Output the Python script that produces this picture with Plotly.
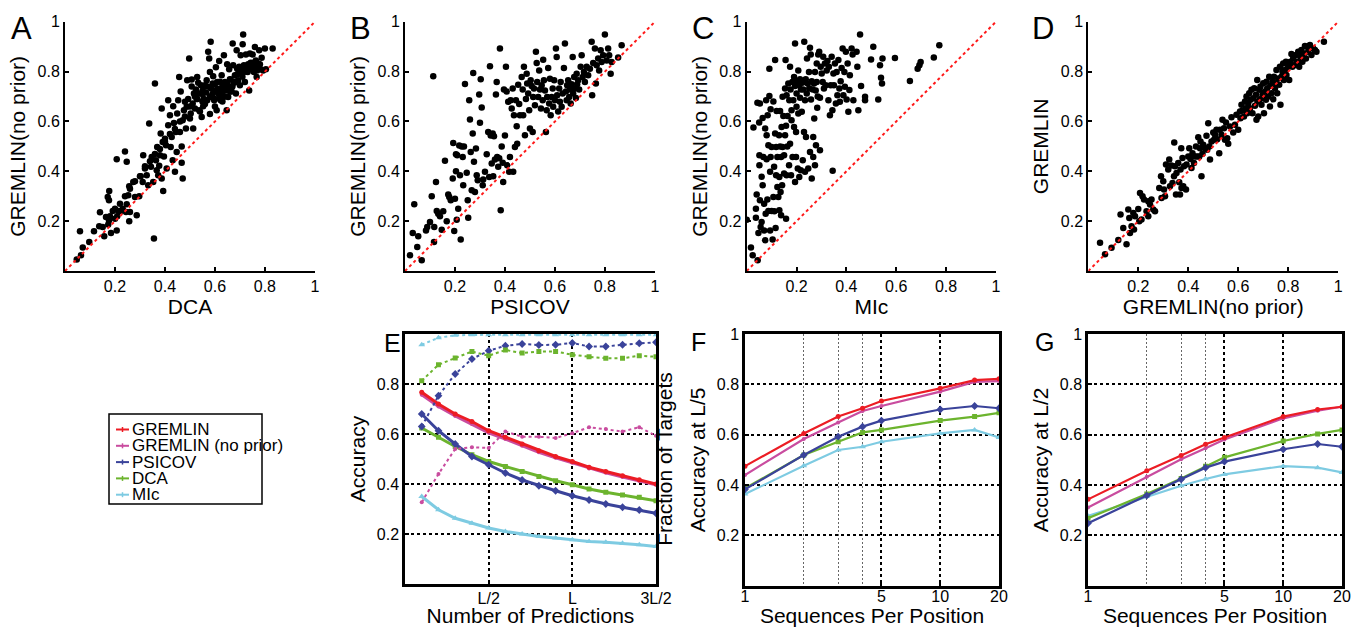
import math
import plotly.graph_objects as go

W, H = 1355, 627
FONT = "Liberation Sans, Arial, Helvetica, sans-serif"

# ---------------- data ----------------
methods = ["GREMLIN", "GREMLIN (no prior)", "PSICOV", "DCA", "MIc"]

# Panel A: DCA (x) vs GREMLIN(no prior) (y)
a_pts = [
    (0.047, 0.046), (0.064, 0.063), (0.071, 0.094), (0.06, 0.16), (0.097, 0.116), (0.116, 0.16),
    (0.137, 0.18), (0.151, 0.177), (0.14, 0.236), (0.157, 0.139), (0.164, 0.217), (0.173, 0.187),
    (0.176, 0.203), (0.184, 0.153), (0.171, 0.297), (0.176, 0.284), (0.177, 0.321), (0.191, 0.241),
    (0.2, 0.21), (0.207, 0.163), (0.209, 0.22), (0.213, 0.241), (0.207, 0.448), (0.223, 0.241),
    (0.231, 0.25), (0.24, 0.48), (0.244, 0.237), (0.247, 0.438), (0.247, 0.268), (0.253, 0.304),
    (0.257, 0.34), (0.26, 0.237), (0.257, 0.2), (0.273, 0.357), (0.28, 0.297), (0.287, 0.224),
    (0.297, 0.3), (0.303, 0.38), (0.311, 0.357), (0.313, 0.465), (0.32, 0.411), (0.327, 0.384),
    (0.333, 0.344), (0.337, 0.592), (0.344, 0.418), (0.347, 0.458), (0.353, 0.357), (0.356, 0.13),
    (0.36, 0.752), (0.364, 0.444), (0.367, 0.404), (0.369, 0.498), (0.373, 0.384), (0.377, 0.422),
    (0.38, 0.465), (0.383, 0.552), (0.387, 0.371), (0.387, 0.652), (0.391, 0.518), (0.393, 0.321),
    (0.396, 0.46), (0.4, 0.531), (0.404, 0.505), (0.407, 0.411), (0.413, 0.585), (0.413, 0.685),
    (0.42, 0.625), (0.423, 0.498), (0.427, 0.538), (0.431, 0.444), (0.433, 0.661), (0.436, 0.594),
    (0.44, 0.398), (0.444, 0.558), (0.447, 0.478), (0.449, 0.632), (0.453, 0.685), (0.457, 0.779),
    (0.46, 0.558), (0.463, 0.72), (0.467, 0.5), (0.467, 0.434), (0.471, 0.371), (0.471, 0.605),
    (0.476, 0.645), (0.48, 0.679), (0.484, 0.572), (0.487, 0.659), (0.489, 0.766), (0.493, 0.69),
    (0.497, 0.853), (0.5, 0.612), (0.503, 0.632), (0.507, 0.74), (0.507, 0.769), (0.511, 0.672),
    (0.513, 0.572), (0.516, 0.712), (0.52, 0.652), (0.524, 0.728), (0.527, 0.69), (0.529, 0.779),
    (0.533, 0.755), (0.537, 0.645), (0.54, 0.712), (0.544, 0.745), (0.547, 0.618), (0.551, 0.724),
    (0.553, 0.661), (0.556, 0.69), (0.56, 0.745), (0.564, 0.716), (0.567, 0.766), (0.569, 0.685),
    (0.573, 0.88), (0.577, 0.853), (0.58, 0.799), (0.583, 0.92), (0.584, 0.732), (0.587, 0.698),
    (0.591, 0.752), (0.593, 0.782), (0.597, 0.685), (0.6, 0.724), (0.604, 0.818), (0.607, 0.645),
    (0.609, 0.759), (0.613, 0.712), (0.617, 0.843), (0.62, 0.732), (0.623, 0.685), (0.627, 0.786),
    (0.631, 0.742), (0.633, 0.698), (0.636, 0.866), (0.64, 0.759), (0.644, 0.724), (0.647, 0.645),
    (0.649, 0.83), (0.653, 0.698), (0.657, 0.81), (0.66, 0.739), (0.663, 0.769), (0.667, 0.72),
    (0.671, 0.913), (0.673, 0.826), (0.677, 0.755), (0.68, 0.786), (0.684, 0.712), (0.687, 0.886),
    (0.689, 0.812), (0.693, 0.766), (0.697, 0.82), (0.7, 0.745), (0.703, 0.866), (0.707, 0.805),
    (0.711, 0.91), (0.713, 0.949), (0.716, 0.826), (0.72, 0.759), (0.724, 0.869), (0.727, 0.82),
    (0.731, 0.799), (0.733, 0.83), (0.737, 0.724), (0.74, 0.873), (0.743, 0.836), (0.747, 0.826),
    (0.751, 0.869), (0.753, 0.836), (0.756, 0.799), (0.76, 0.899), (0.764, 0.845), (0.767, 0.779),
    (0.769, 0.805), (0.773, 0.833), (0.777, 0.886), (0.783, 0.81), (0.787, 0.856), (0.793, 0.805),
    (0.8, 0.893), (0.804, 0.81), (0.831, 0.893),
    (0.52, 0.70), (0.55, 0.71), (0.57, 0.74), (0.58, 0.70), (0.60, 0.75), (0.61, 0.73), (0.62, 0.76),
    (0.63, 0.72), (0.64, 0.70), (0.65, 0.75), (0.66, 0.77), (0.67, 0.74), (0.68, 0.76), (0.69, 0.79),
    (0.70, 0.80), (0.71, 0.78), (0.72, 0.80), (0.74, 0.81), (0.75, 0.82), (0.76, 0.82), (0.78, 0.83),
    (0.50, 0.66), (0.48, 0.62), (0.46, 0.60), (0.44, 0.57), (0.42, 0.55), (0.40, 0.52), (0.38, 0.49),
    (0.36, 0.47), (0.34, 0.44), (0.32, 0.42), (0.30, 0.38), (0.28, 0.36), (0.26, 0.33), (0.24, 0.30),
    (0.22, 0.27), (0.20, 0.25), (0.18, 0.22), (0.53, 0.69), (0.55, 0.68), (0.56, 0.67), (0.59, 0.71),
    (0.60, 0.69), (0.62, 0.70), (0.63, 0.68), (0.64, 0.73), (0.66, 0.72), (0.60, 0.66), (0.58, 0.63),
    (0.54, 0.64),
]

# Panel B: PSICOV (x) vs GREMLIN(no prior) (y)
b_pts = [
    (0.02, 0.063), (0.031, 0.153), (0.037, 0.268), (0.049, 0.096), (0.053, 0.139), (0.067, 0.043),
    (0.084, 0.163), (0.089, 0.177), (0.1, 0.197), (0.107, 0.3), (0.113, 0.782), (0.116, 0.116),
    (0.117, 0.177), (0.124, 0.357), (0.127, 0.241), (0.133, 0.23), (0.14, 0.22), (0.147, 0.166),
    (0.153, 0.24), (0.16, 0.442), (0.167, 0.2), (0.173, 0.307), (0.177, 0.297), (0.183, 0.284),
    (0.191, 0.371), (0.193, 0.514), (0.197, 0.161), (0.2, 0.29), (0.204, 0.4), (0.207, 0.206),
    (0.204, 0.469), (0.209, 0.465), (0.213, 0.25), (0.217, 0.504), (0.22, 0.384), (0.223, 0.126),
    (0.227, 0.5), (0.231, 0.458), (0.233, 0.344), (0.236, 0.5), (0.24, 0.75), (0.247, 0.394),
    (0.251, 0.284), (0.253, 0.214), (0.257, 0.685), (0.26, 0.608), (0.263, 0.478), (0.267, 0.324),
    (0.271, 0.552), (0.273, 0.795), (0.276, 0.438), (0.28, 0.317), (0.284, 0.492), (0.287, 0.384),
    (0.291, 0.364), (0.297, 0.708), (0.3, 0.595), (0.303, 0.77), (0.307, 0.656), (0.311, 0.344),
    (0.313, 0.367), (0.32, 0.398), (0.327, 0.469), (0.333, 0.558), (0.337, 0.377), (0.34, 0.822),
    (0.343, 0.544), (0.347, 0.431), (0.351, 0.552), (0.353, 0.38), (0.356, 0.541), (0.36, 0.447),
    (0.364, 0.708), (0.367, 0.759), (0.369, 0.458), (0.373, 0.418), (0.377, 0.452), (0.38, 0.893),
    (0.383, 0.244), (0.387, 0.5), (0.391, 0.434), (0.393, 0.357), (0.396, 0.728), (0.4, 0.544),
    (0.404, 0.82), (0.407, 0.72), (0.409, 0.424), (0.413, 0.679), (0.417, 0.398), (0.42, 0.458),
    (0.423, 0.685), (0.427, 0.652), (0.431, 0.732), (0.433, 0.398), (0.436, 0.625), (0.44, 0.498),
    (0.444, 0.685), (0.447, 0.581), (0.449, 0.511), (0.453, 0.747), (0.457, 0.67), (0.46, 0.625),
    (0.467, 0.779), (0.471, 0.728), (0.473, 0.625), (0.476, 0.82), (0.48, 0.545), (0.484, 0.69),
    (0.487, 0.792), (0.489, 0.752), (0.493, 0.712), (0.497, 0.645), (0.5, 0.572), (0.503, 0.766),
    (0.507, 0.742), (0.511, 0.558), (0.513, 0.698), (0.516, 0.732), (0.52, 0.665), (0.524, 0.88),
    (0.527, 0.835), (0.529, 0.759), (0.533, 0.698), (0.537, 0.805), (0.54, 0.728), (0.544, 0.652),
    (0.547, 0.745), (0.551, 0.685), (0.553, 0.848), (0.556, 0.766), (0.56, 0.724), (0.564, 0.558),
    (0.567, 0.645), (0.569, 0.698), (0.573, 0.815), (0.577, 0.672), (0.58, 0.772), (0.583, 0.625),
    (0.587, 0.698), (0.591, 0.732), (0.593, 0.659), (0.597, 0.766), (0.6, 0.685), (0.604, 0.893),
    (0.607, 0.859), (0.609, 0.705), (0.613, 0.64), (0.617, 0.732), (0.62, 0.679), (0.623, 0.759),
    (0.627, 0.659), (0.631, 0.712), (0.636, 0.815), (0.64, 0.913), (0.644, 0.72), (0.647, 0.685),
    (0.649, 0.745), (0.653, 0.766), (0.657, 0.698), (0.66, 0.728), (0.663, 0.672), (0.667, 0.749),
    (0.671, 0.859), (0.673, 0.712), (0.677, 0.779), (0.68, 0.732), (0.684, 0.694), (0.687, 0.792),
    (0.689, 0.749), (0.693, 0.766), (0.697, 0.728), (0.703, 0.82), (0.707, 0.866), (0.711, 0.779),
    (0.716, 0.799), (0.72, 0.759), (0.727, 0.82), (0.733, 0.786), (0.74, 0.812), (0.747, 0.92),
    (0.749, 0.705), (0.753, 0.835), (0.76, 0.893), (0.764, 0.752), (0.767, 0.826), (0.773, 0.853),
    (0.777, 0.805), (0.783, 0.886), (0.787, 0.839), (0.793, 0.866), (0.8, 0.949), (0.807, 0.845),
    (0.813, 0.893), (0.817, 0.866), (0.823, 0.792), (0.827, 0.839), (0.853, 0.857), (0.867, 0.906),
]

# Panel C: MIc (x) vs GREMLIN(no prior) (y)
c_pts = [
    (0.0, 0.206), (0.017, 0.094), (0.024, 0.063), (0.027, 0.576), (0.037, 0.25), (0.037, 0.214),
    (0.04, 0.307), (0.043, 0.675), (0.044, 0.043), (0.047, 0.153), (0.05, 0.596), (0.051, 0.465),
    (0.051, 0.424), (0.053, 0.672), (0.053, 0.284), (0.056, 0.177), (0.06, 0.378), (0.06, 0.197),
    (0.064, 0.614), (0.064, 0.344), (0.067, 0.458), (0.07, 0.163), (0.07, 0.27), (0.074, 0.572),
    (0.074, 0.123), (0.076, 0.23), (0.078, 0.685), (0.08, 0.545), (0.08, 0.448), (0.083, 0.287),
    (0.084, 0.625), (0.087, 0.505), (0.087, 0.241), (0.091, 0.702), (0.091, 0.812), (0.094, 0.163),
    (0.094, 0.398), (0.096, 0.458), (0.096, 0.649), (0.1, 0.241), (0.1, 0.498), (0.104, 0.126),
    (0.107, 0.68), (0.107, 0.297), (0.11, 0.418), (0.111, 0.24), (0.114, 0.552), (0.114, 0.847),
    (0.116, 0.173), (0.118, 0.384), (0.118, 0.498), (0.12, 0.642), (0.123, 0.337), (0.123, 0.458),
    (0.127, 0.297), (0.13, 0.545), (0.131, 0.377), (0.131, 0.244), (0.134, 0.5), (0.134, 0.642),
    (0.136, 0.317), (0.138, 0.458), (0.138, 0.224), (0.14, 0.578), (0.142, 0.344), (0.144, 0.498),
    (0.144, 0.699), (0.147, 0.622), (0.15, 0.391), (0.15, 0.465), (0.154, 0.732), (0.154, 0.545),
    (0.156, 0.847), (0.158, 0.21), (0.158, 0.583), (0.16, 0.705), (0.16, 0.384), (0.163, 0.5),
    (0.164, 0.622), (0.167, 0.752), (0.17, 0.424), (0.171, 0.685), (0.174, 0.511), (0.174, 0.82),
    (0.176, 0.728), (0.178, 0.384), (0.18, 0.645), (0.18, 0.605), (0.183, 0.759), (0.184, 0.458),
    (0.187, 0.685), (0.19, 0.779), (0.19, 0.578), (0.194, 0.913), (0.194, 0.742), (0.194, 0.357),
    (0.198, 0.558), (0.198, 0.458), (0.2, 0.712), (0.2, 0.659), (0.203, 0.759), (0.205, 0.411),
    (0.207, 0.805), (0.207, 0.632), (0.21, 0.745), (0.211, 0.377), (0.214, 0.695), (0.214, 0.77),
    (0.217, 0.404), (0.218, 0.728), (0.221, 0.639), (0.223, 0.755), (0.225, 0.444), (0.227, 0.728),
    (0.23, 0.558), (0.231, 0.92), (0.234, 0.685), (0.234, 0.398), (0.237, 0.77), (0.238, 0.538),
    (0.241, 0.712), (0.242, 0.853), (0.245, 0.752), (0.247, 0.411), (0.25, 0.799), (0.251, 0.732),
    (0.254, 0.896), (0.254, 0.478), (0.257, 0.869), (0.258, 0.688), (0.261, 0.371), (0.261, 0.762),
    (0.265, 0.728), (0.267, 0.538), (0.267, 0.458), (0.27, 0.752), (0.271, 0.612), (0.274, 0.799),
    (0.274, 0.424), (0.277, 0.724), (0.278, 0.505), (0.281, 0.759), (0.281, 0.833), (0.283, 0.655),
    (0.285, 0.7), (0.287, 0.869), (0.291, 0.88), (0.294, 0.695), (0.294, 0.485), (0.297, 0.82),
    (0.301, 0.793), (0.305, 0.759), (0.307, 0.86), (0.31, 0.732), (0.314, 0.833), (0.317, 0.745),
    (0.321, 0.805), (0.324, 0.843), (0.328, 0.685), (0.33, 0.82), (0.334, 0.625), (0.337, 0.745),
    (0.341, 0.86), (0.344, 0.645), (0.345, 0.402), (0.348, 0.793), (0.35, 0.745), (0.354, 0.833),
    (0.358, 0.672), (0.361, 0.799), (0.364, 0.705), (0.368, 0.847), (0.372, 0.732), (0.374, 0.679),
    (0.377, 0.762), (0.381, 0.815), (0.385, 0.893), (0.388, 0.705), (0.392, 0.799), (0.394, 0.739),
    (0.398, 0.88), (0.401, 0.688), (0.405, 0.833), (0.408, 0.639), (0.412, 0.726), (0.414, 0.786),
    (0.421, 0.893), (0.425, 0.869), (0.428, 0.685), (0.441, 0.88), (0.444, 0.82), (0.448, 0.645),
    (0.455, 0.949), (0.459, 0.742), (0.475, 0.699), (0.475, 0.685), (0.499, 0.849), (0.508, 0.9),
    (0.528, 0.688), (0.535, 0.826), (0.539, 0.776), (0.543, 0.752), (0.545, 0.853), (0.595, 0.855),
    (0.655, 0.763), (0.686, 0.812), (0.693, 0.826), (0.698, 0.839), (0.751, 0.857), (0.773, 0.906),
]

# Panel D: GREMLIN(no prior) (x) vs GREMLIN (y)
d_pts = [
    (0.047, 0.113), (0.067, 0.067), (0.093, 0.093), (0.12, 0.124), (0.129, 0.227), (0.14, 0.173),
    (0.153, 0.107), (0.16, 0.247), (0.164, 0.213), (0.167, 0.153), (0.173, 0.18), (0.18, 0.233),
    (0.183, 0.167), (0.187, 0.22), (0.2, 0.249), (0.204, 0.2), (0.207, 0.313), (0.213, 0.207),
    (0.217, 0.3), (0.223, 0.287), (0.233, 0.24), (0.24, 0.28), (0.24, 0.22), (0.247, 0.267),
    (0.253, 0.287), (0.26, 0.247), (0.267, 0.24), (0.284, 0.333), (0.291, 0.38), (0.293, 0.293),
    (0.3, 0.36), (0.303, 0.327), (0.307, 0.3), (0.311, 0.427), (0.32, 0.407), (0.324, 0.447),
    (0.327, 0.34), (0.333, 0.423), (0.337, 0.353), (0.343, 0.38), (0.344, 0.516), (0.347, 0.42),
    (0.351, 0.307), (0.353, 0.393), (0.36, 0.433), (0.364, 0.356), (0.367, 0.307), (0.369, 0.407),
    (0.372, 0.493), (0.373, 0.333), (0.377, 0.453), (0.38, 0.34), (0.383, 0.42), (0.391, 0.327),
    (0.393, 0.427), (0.4, 0.46), (0.404, 0.493), (0.409, 0.449), (0.413, 0.413), (0.417, 0.473),
    (0.423, 0.433), (0.427, 0.46), (0.431, 0.5), (0.436, 0.46), (0.44, 0.537), (0.444, 0.46),
    (0.447, 0.493), (0.449, 0.52), (0.453, 0.38), (0.457, 0.471), (0.46, 0.507), (0.467, 0.493),
    (0.473, 0.543), (0.476, 0.487), (0.48, 0.593), (0.484, 0.5), (0.487, 0.447), (0.493, 0.52),
    (0.5, 0.556), (0.503, 0.527), (0.507, 0.547), (0.513, 0.567), (0.516, 0.529), (0.524, 0.473),
    (0.527, 0.567), (0.533, 0.547), (0.537, 0.607), (0.543, 0.573), (0.547, 0.527), (0.551, 0.596),
    (0.556, 0.533), (0.56, 0.511), (0.567, 0.58), (0.573, 0.617), (0.58, 0.556), (0.587, 0.587),
    (0.593, 0.627), (0.6, 0.567), (0.607, 0.64), (0.609, 0.613), (0.613, 0.667), (0.617, 0.644),
    (0.623, 0.62), (0.627, 0.68), (0.631, 0.653), (0.633, 0.7), (0.636, 0.633), (0.64, 0.673),
    (0.644, 0.713), (0.647, 0.653), (0.649, 0.687), (0.653, 0.727), (0.657, 0.633), (0.66, 0.693),
    (0.664, 0.733), (0.667, 0.663), (0.671, 0.707), (0.673, 0.607), (0.676, 0.767), (0.677, 0.68),
    (0.68, 0.62), (0.684, 0.727), (0.687, 0.689), (0.689, 0.74), (0.693, 0.667), (0.697, 0.707),
    (0.7, 0.753), (0.703, 0.633), (0.707, 0.72), (0.711, 0.687), (0.713, 0.76), (0.716, 0.733),
    (0.72, 0.7), (0.724, 0.78), (0.727, 0.66), (0.729, 0.743), (0.733, 0.713), (0.737, 0.76),
    (0.74, 0.689), (0.743, 0.78), (0.747, 0.733), (0.751, 0.753), (0.753, 0.807), (0.756, 0.713),
    (0.76, 0.773), (0.764, 0.747), (0.767, 0.82), (0.769, 0.667), (0.773, 0.78), (0.777, 0.8),
    (0.78, 0.833), (0.783, 0.767), (0.787, 0.807), (0.791, 0.84), (0.793, 0.787), (0.8, 0.82),
    (0.804, 0.767), (0.809, 0.84), (0.813, 0.871), (0.817, 0.82), (0.82, 0.853), (0.827, 0.827),
    (0.831, 0.867), (0.836, 0.84), (0.84, 0.88), (0.844, 0.82), (0.849, 0.86), (0.853, 0.887),
    (0.857, 0.84), (0.863, 0.873), (0.867, 0.903), (0.871, 0.853), (0.876, 0.9), (0.88, 0.88),
    (0.887, 0.907), (0.893, 0.867), (0.9, 0.893), (0.907, 0.887), (0.913, 0.88), (0.943, 0.92),
]

identity = [0.0, 1.0]

# Panel E: accuracy vs number of predictions (in units of L)
e_x = [0.1, 0.2, 0.3, 0.4, 0.5, 0.6, 0.7, 0.8, 0.9, 1.0, 1.1, 1.2, 1.3, 1.4, 1.5]
e_x_ticks = [0.5, 1.0, 1.5]
e_x_labels = ["L/2", "L", "3L/2"]
e_acc = {
    "GREMLIN": [0.767, 0.72, 0.68, 0.65, 0.613, 0.587, 0.56, 0.533, 0.51, 0.49, 0.467, 0.45, 0.433, 0.417, 0.40],
    "GREMLIN (no prior)": [0.757, 0.71, 0.672, 0.64, 0.605, 0.58, 0.553, 0.527, 0.505, 0.485, 0.462, 0.445, 0.428, 0.412, 0.397],
    "PSICOV": [0.68, 0.613, 0.56, 0.51, 0.477, 0.444, 0.416, 0.393, 0.373, 0.353, 0.336, 0.32, 0.307, 0.296, 0.283],
    "DCA": [0.624, 0.587, 0.55, 0.517, 0.49, 0.47, 0.45, 0.43, 0.413, 0.397, 0.38, 0.367, 0.356, 0.347, 0.333],
    "MIc": [0.35, 0.297, 0.263, 0.243, 0.224, 0.21, 0.2, 0.19, 0.184, 0.177, 0.17, 0.167, 0.163, 0.157, 0.15],
}
e_frac = {
    "GREMLIN (no prior)": [0.327, 0.44, 0.54, 0.547, 0.544, 0.61, 0.589, 0.589, 0.584, 0.603, 0.627, 0.62, 0.61, 0.627, 0.593],
    "PSICOV": [0.63, 0.753, 0.84, 0.9, 0.933, 0.953, 0.96, 0.956, 0.957, 0.964, 0.95, 0.95, 0.957, 0.963, 0.967],
    "DCA": [0.813, 0.877, 0.904, 0.93, 0.913, 0.936, 0.924, 0.93, 0.93, 0.917, 0.909, 0.903, 0.903, 0.913, 0.909],
    "MIc": [0.957, 0.985, 0.995, 0.997, 0.997, 0.997, 0.997, 0.997, 0.997, 0.997, 0.997, 0.997, 0.997, 0.997, 0.997],
}

# Panels F, G: accuracy vs sequences per position
seq_x = [1, 2, 3, 4, 5, 10, 15, 20]
seq_ticks = [1, 5, 10, 20]
seq_minor = [2, 3, 4]
f_acc = {
    "GREMLIN": [0.475, 0.605, 0.672, 0.705, 0.734, 0.784, 0.817, 0.822],
    "GREMLIN (no prior)": [0.44, 0.583, 0.648, 0.694, 0.714, 0.771, 0.81, 0.813],
    "PSICOV": [0.383, 0.519, 0.592, 0.632, 0.656, 0.70, 0.714, 0.705],
    "DCA": [0.387, 0.519, 0.572, 0.609, 0.619, 0.656, 0.672, 0.687],
    "MIc": [0.364, 0.477, 0.539, 0.552, 0.572, 0.605, 0.619, 0.589],
}
g_acc = {
    "GREMLIN": [0.343, 0.457, 0.517, 0.562, 0.589, 0.672, 0.70, 0.711],
    "GREMLIN (no prior)": [0.311, 0.433, 0.502, 0.546, 0.581, 0.665, 0.695, 0.711],
    "PSICOV": [0.248, 0.358, 0.423, 0.469, 0.493, 0.542, 0.563, 0.552],
    "DCA": [0.268, 0.364, 0.426, 0.475, 0.51, 0.575, 0.603, 0.619],
    "MIc": [0.277, 0.354, 0.397, 0.424, 0.442, 0.475, 0.469, 0.45],
}

acc_ticks = [0.2, 0.4, 0.6, 0.8]
unit_ticks = [0.2, 0.4, 0.6, 0.8, 1.0]
unit_labels = ["0.2", "0.4", "0.6", "0.8", "1"]

# ---------------- style ----------------
colors = {
    "GREMLIN": "#ec1c24",
    "GREMLIN (no prior)": "#c94c9f",
    "PSICOV": "#3a439a",
    "DCA": "#6cb42e",
    "MIc": "#7ecbe2",
}
symbols = {
    "GREMLIN": ("circle", 5),
    "GREMLIN (no prior)": ("circle", 4),
    "PSICOV": ("diamond", 6),
    "DCA": ("square", 5),
    "MIc": ("triangle-up", 6),
}


def px_x(p):
    """page pixel -> paper fraction"""
    return p / W


def px_y(p):
    return 1 - p / H


fig = go.Figure()

scatter_panels = [
    ("x", "y", a_pts),
    ("x2", "y2", b_pts),
    ("x3", "y3", c_pts),
    ("x4", "y4", d_pts),
]
for xa, ya, pts in scatter_panels:
    fig.add_trace(go.Scatter(
        x=[p[0] for p in pts], y=[p[1] for p in pts], mode="markers",
        marker=dict(color="black", size=6.5), xaxis=xa, yaxis=ya, showlegend=False,
        hoverinfo="skip"))
    fig.add_trace(go.Scatter(
        x=identity, y=identity, mode="lines",
        line=dict(color="#ff1a1a", width=2, dash="dot"), xaxis=xa, yaxis=ya,
        showlegend=False, hoverinfo="skip"))

# Panel E: dotted fraction-of-targets curves on right axis
for m in methods:
    if m in e_frac:
        sym, sz = symbols[m]
        fig.add_trace(go.Scatter(
            x=e_x, y=e_frac[m], mode="lines+markers",
            line=dict(color=colors[m], width=2, dash="dot"),
            marker=dict(color=colors[m], symbol=sym, size=sz),
            xaxis="x5", yaxis="y8", showlegend=False))
for m in reversed(methods):
    sym, sz = symbols[m]
    fig.add_trace(go.Scatter(
        x=e_x, y=e_acc[m], mode="lines+markers",
        line=dict(color=colors[m], width=3),
        marker=dict(color=colors[m], symbol=sym, size=sz),
        xaxis="x5", yaxis="y5", showlegend=False))

for xa, ya, data in [("x6", "y6", f_acc), ("x7", "y7", g_acc)]:
    for m in reversed(methods):
        sym, sz = symbols[m]
        fig.add_trace(go.Scatter(
            x=seq_x, y=data[m], mode="lines+markers",
            line=dict(color=colors[m], width=2.2),
            marker=dict(color=colors[m], symbol=sym, size=sz),
            xaxis=xa, yaxis=ya, showlegend=False))

# ---------------- axes ----------------
tickfont = dict(family=FONT, size=16, color="black")
titlefont = dict(family=FONT, size=21, color="black")

ytop = px_y(21.7)
ybot = px_y(271)
ybot2 = px_y(584)
ytop2 = px_y(334)

scatter_x_dom = [(65, 315), (405, 655), (746.7, 996), (1088.3, 1338.3)]
scatter_titles = [("DCA", "GREMLIN(no prior)"), ("PSICOV", "GREMLIN(no prior)"),
                  ("MIc", "GREMLIN(no prior)"), ("GREMLIN(no prior)", "GREMLIN")]

layout = dict(
    width=W, height=H, margin=dict(l=0, r=0, t=0, b=0, autoexpand=False),
    paper_bgcolor="white", plot_bgcolor="white", showlegend=False,
    font=dict(family=FONT, color="black"),
)


def scatter_axis(dom, anchor, title, standoff):
    return dict(
        domain=dom, anchor=anchor, range=[0, 1.0005], tickvals=unit_ticks, ticktext=unit_labels,
        showline=True, linewidth=2, linecolor="black", mirror=False,
        ticks="inside", ticklen=4, tickwidth=1.5, tickcolor="black",
        showgrid=False, zeroline=False, tickfont=tickfont, automargin=False,
        title=dict(text=title, font=titlefont, standoff=standoff),
    )


for i, ((x0, x1), (xt, yt)) in enumerate(zip(scatter_x_dom, scatter_titles)):
    n = "" if i == 0 else str(i + 1)
    layout["xaxis" + n] = scatter_axis([px_x(x0), px_x(x1)], "y" + n, xt, 4)
    layout["yaxis" + n] = scatter_axis([ybot, ytop], "x" + n, yt, 6)


def box_axis(dom, anchor, **kw):
    d = dict(
        domain=dom, anchor=anchor, showline=True, linewidth=2.5, linecolor="black", mirror=True,
        ticks="inside", ticklen=4, tickwidth=1.5, tickcolor="black",
        showgrid=True, gridcolor="black", gridwidth=1.5, griddash="dot",
        zeroline=False, tickfont=tickfont, automargin=False,
    )
    d.update(kw)
    return d


layout["xaxis5"] = box_axis([px_x(405), px_x(656)], "y5", range=[0, 1.5],
                            tickvals=e_x_ticks, ticktext=e_x_labels, ticklabelstandoff=-2,
                            title=dict(text="Number of Predictions", font=titlefont, standoff=6))
layout["yaxis5"] = box_axis([ybot2, ytop2], "x5", range=[0, 1], tickvals=acc_ticks,
                            title=dict(text="Accuracy", font=titlefont, standoff=6))
layout["yaxis8"] = dict(overlaying="y5", anchor="x5", side="right", range=[0, 1],
                        showticklabels=False, ticks="", showgrid=False, showline=False,
                        zeroline=False, automargin=False,
                        title=dict(text="Fraction of Targets", font=titlefont, standoff=1))

log_rng = [0, math.log10(20)]
for xa, ya, dom, ttl in [("xaxis6", "yaxis6", (745, 999), "Accuracy at L/5"),
                         ("xaxis7", "yaxis7", (1088, 1342), "Accuracy at L/2")]:
    xn = xa.replace("axis", "")
    yn = ya.replace("axis", "")
    layout[xa] = box_axis([px_x(dom[0]), px_x(dom[1])], yn, type="log", range=log_rng,
                          tickvals=seq_ticks, ticktext=[str(v) for v in seq_ticks],
                          ticklabelstandoff=-6,
                          minor=dict(tickvals=seq_minor, showgrid=True, gridcolor="#666666",
                                     gridwidth=1, griddash="2px,2px", ticks=""),
                          title=dict(text="Sequences Per Position", font=titlefont, standoff=11))
    layout[ya] = box_axis([px_y(585.7), ytop2], xn, range=[0, 1], tickvals=unit_ticks,
                          ticktext=unit_labels,
                          title=dict(text=ttl, font=titlefont, standoff=6))

# ---------------- panel letters ----------------
letters = [("A", 21, 28, 31), ("B", 360, 28, 31), ("C", 703, 28, 31), ("D", 1043, 28, 31),
           ("E", 392, 343, 25), ("F", 698, 342, 25), ("G", 1044, 342, 25)]
annotations = []
for t, x, y, s in letters:
    annotations.append(dict(text=t, x=px_x(x), y=px_y(y), xref="paper", yref="paper",
                            xanchor="center", yanchor="middle", showarrow=False,
                            font=dict(family=FONT, size=s, color="black")))

# ---------------- legend (drawn box) ----------------
leg_left, leg_top, leg_right, leg_bottom = 109, 414, 262, 504
leg_first, leg_step = 429.5, 16.3
shapes = [dict(type="rect", xref="paper", yref="paper",
               x0=px_x(leg_left), x1=px_x(leg_right), y0=px_y(leg_bottom), y1=px_y(leg_top),
               line=dict(color="black", width=1.5), fillcolor="white")]
for i, m in enumerate(methods):
    yy = leg_first + i * leg_step
    shapes.append(dict(type="line", xref="paper", yref="paper",
                       x0=px_x(116), x1=px_x(129), y0=px_y(yy), y1=px_y(yy),
                       line=dict(color=colors[m], width=2)))
    shapes.append(dict(type="line", xref="paper", yref="paper",
                       x0=px_x(122.5), x1=px_x(122.5), y0=px_y(yy - 2.5), y1=px_y(yy + 2.5),
                       line=dict(color=colors[m], width=1.5)))
    annotations.append(dict(text=m, x=px_x(130), y=px_y(yy), xref="paper", yref="paper",
                            xanchor="left", yanchor="middle", showarrow=False,
                            font=dict(family=FONT, size=17, color="black")))

layout["annotations"] = annotations
layout["shapes"] = shapes
fig.update_layout(**layout)

# remove the default page margin so the figure sits at the window's top-left corner
fig.write_html(
    "out.html",
    config={"displayModeBar": False},
    post_script="document.body.style.margin='0px';document.body.style.overflow='hidden';",
)
